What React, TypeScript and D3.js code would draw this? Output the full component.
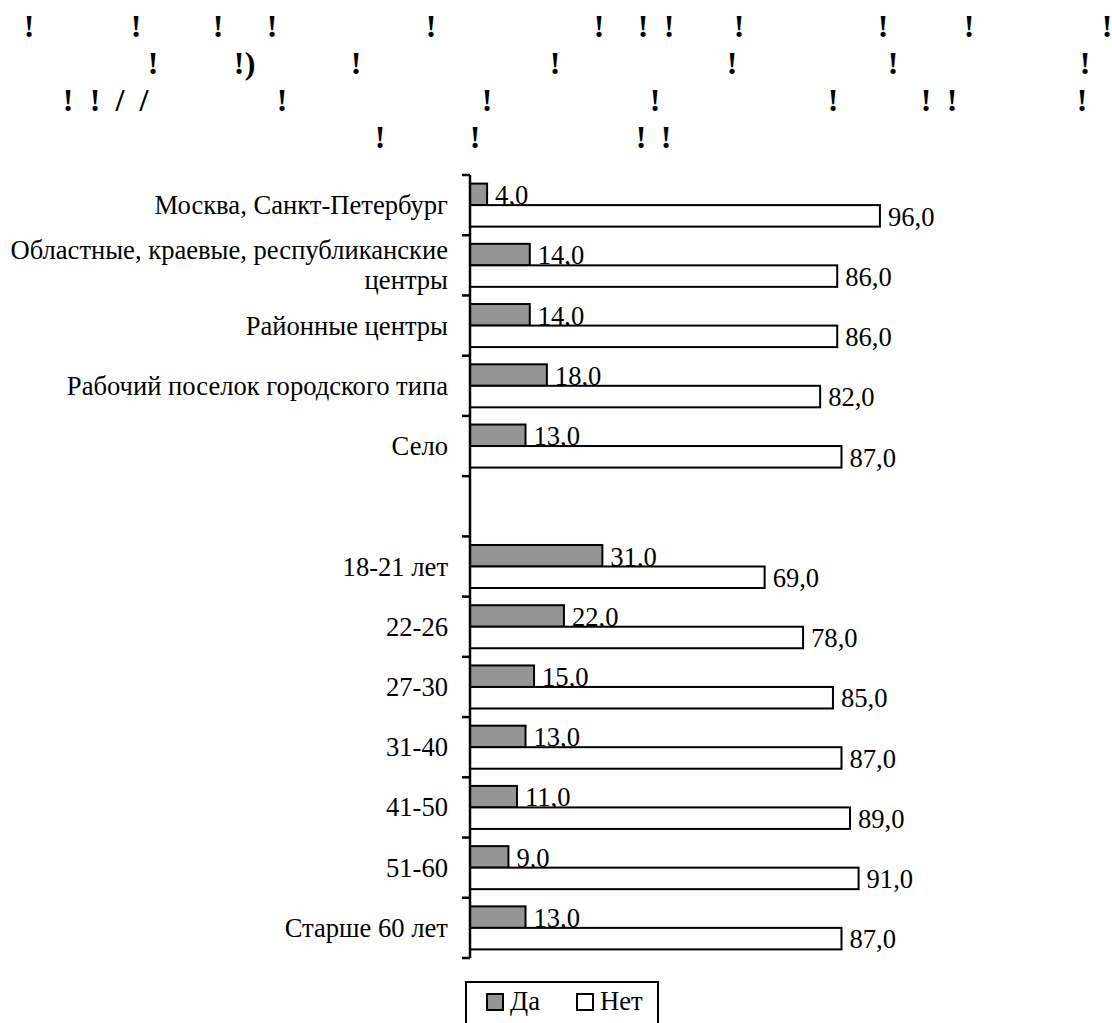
import React from "react";
import * as d3 from "d3";

const categories: string[][] = [
  ["Москва, Санкт-Петербург"],
  ["Областные, краевые, республиканские", "центры"],
  ["Районные центры"],
  ["Рабочий поселок городского типа"],
  ["Село"],
  [],
  ["18-21 лет"],
  ["22-26"],
  ["27-30"],
  ["31-40"],
  ["41-50"],
  ["51-60"],
  ["Старше 60 лет"],
];
const yesValues: (number | null)[] = [4, 14, 14, 18, 13, null, 31, 22, 15, 13, 11, 9, 13];
const noValues: (number | null)[] = [96, 86, 86, 82, 87, null, 69, 78, 85, 87, 89, 91, 87];
const seriesNames = ["Да", "Нет"];
const seriesFills = ["#959595", "#ffffff"];

// garbled title glyphs: [row, x, char]
const titleRows: { row: number; x: number; ch: string }[] = [
  { row: 0, x: 29, ch: "!" }, { row: 0, x: 136, ch: "!" }, { row: 0, x: 218, ch: "!" }, { row: 0, x: 272, ch: "!" },
  { row: 0, x: 431, ch: "!" }, { row: 0, x: 599, ch: "!" }, { row: 0, x: 643, ch: "!" }, { row: 0, x: 669, ch: "!" },
  { row: 0, x: 739, ch: "!" }, { row: 0, x: 883, ch: "!" }, { row: 0, x: 969, ch: "!" }, { row: 0, x: 1107, ch: "!" },
  { row: 1, x: 153, ch: "!" }, { row: 1, x: 239, ch: "!" }, { row: 1, x: 250, ch: ")" }, { row: 1, x: 356, ch: "!" },
  { row: 1, x: 555, ch: "!" }, { row: 1, x: 732, ch: "!" }, { row: 1, x: 893, ch: "!" }, { row: 1, x: 1085, ch: "!" },
  { row: 2, x: 68, ch: "!" }, { row: 2, x: 95, ch: "!" }, { row: 2, x: 120, ch: "/" }, { row: 2, x: 144, ch: "/" },
  { row: 2, x: 282, ch: "!" }, { row: 2, x: 487, ch: "!" }, { row: 2, x: 655, ch: "!" }, { row: 2, x: 833, ch: "!" },
  { row: 2, x: 926, ch: "!" }, { row: 2, x: 952, ch: "!" }, { row: 2, x: 1082, ch: "!" },
  { row: 3, x: 380, ch: "!" }, { row: 3, x: 475, ch: "!" }, { row: 3, x: 641, ch: "!" }, { row: 3, x: 666, ch: "!" },
];

const W = 1112;
const H = 1023;
const txt = { fontFamily: "Liberation Serif" };
const FS = 26.6;

export default function App() {
  const axisX = 470;
  const top = 175;
  const bottom = 958;
  const x = d3.scaleLinear().domain([0, 100]).range([axisX, 897]);
  const y = d3
    .scaleBand<number>()
    .domain(d3.range(categories.length))
    .range([top, bottom])
    .paddingInner(0)
    .paddingOuter(0);
  const bw = y.bandwidth();
  const inner = d3.scaleBand<number>().domain([0, 1]).range([0, bw]).paddingInner(0).paddingOuter(0.4);
  const barH = inner.bandwidth();
  const ticks = d3.range(categories.length + 1).map((i) => top + i * bw);
  const rowY = [37, 74, 111, 148];

  return (
    <svg width={W} height={H} style={{ display: "block", position: "absolute", left: 0, top: 0 }}>
      <rect width={W} height={H} fill="#fff" />
      <g>
        {titleRows.map((t, i) => (
          <text key={i} x={t.x} y={rowY[t.row]} style={txt} fontWeight="bold" fontSize={32} textAnchor="middle">
            {t.ch}
          </text>
        ))}
      </g>
      {categories.map((lines, i) => {
        const c = (y(i) as number) + bw / 2;
        const lh = 30;
        const start = c + 9 - ((lines.length - 1) * lh) / 2;
        return (
          <text key={"c" + i} textAnchor="end" fontSize={FS} x={448} style={txt}>
            {lines.map((l, j) => (
              <tspan key={j} x={448} y={start + j * lh}>
                {l}
              </tspan>
            ))}
          </text>
        );
      })}
      {[yesValues, noValues].map((vals, s) => (
        <g key={"s" + s}>
          {vals.map((v, i) => {
            if (v == null) return null;
            const y0 = (y(i) as number) + (inner(s) as number);
            return (
              <g key={i}>
                <rect x={x(0)} y={y0} width={x(v) - x(0)} height={barH} fill={seriesFills[s]} stroke="#000" strokeWidth={2} />
                <text x={x(v) + 8} y={y0 + barH - 1} fontSize={FS} style={txt}>
                  {d3.format(".1f")(v).replace(".", ",")}
                </text>
              </g>
            );
          })}
        </g>
      ))}
      <line x1={axisX} x2={axisX} y1={top} y2={bottom} stroke="#000" strokeWidth={2.5} />
      {ticks.map((t, i) => (
        <line key={"t" + i} x1={axisX - 8} x2={axisX} y1={t} y2={t} stroke="#000" strokeWidth={2.5} />
      ))}
      <g>
        <rect x={466} y={982} width={192} height={50} fill="#fff" stroke="#000" strokeWidth={2} />
        {seriesNames.map((n, i) => {
          const lx = i === 0 ? 487 : 577;
          return (
            <g key={n}>
              <rect x={lx} y={994} width={16} height={16} fill={seriesFills[i]} stroke="#000" strokeWidth={2} />
              <text x={lx + 23} y={1010} fontSize={FS} style={txt}>
                {n}
              </text>
            </g>
          );
        })}
      </g>
    </svg>
  );
}
